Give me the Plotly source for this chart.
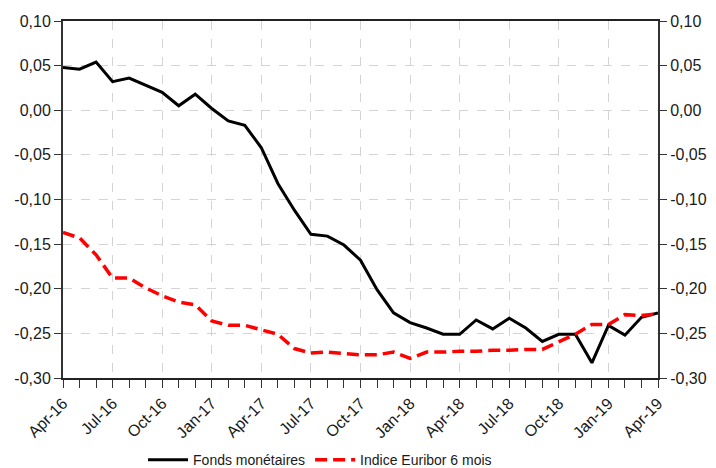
import plotly.graph_objects as go

months = ["Apr-16","May-16","Jun-16","Jul-16","Aug-16","Sep-16","Oct-16","Nov-16","Dec-16",
          "Jan-17","Feb-17","Mar-17","Apr-17","May-17","Jun-17","Jul-17","Aug-17","Sep-17",
          "Oct-17","Nov-17","Dec-17","Jan-18","Feb-18","Mar-18","Apr-18","May-18","Jun-18",
          "Jul-18","Aug-18","Sep-18","Oct-18","Nov-18","Dec-18","Jan-19","Feb-19","Mar-19","Apr-19"]

fonds = [0.048, 0.046, 0.054, 0.032, 0.036, 0.028, 0.020, 0.005, 0.018,
         0.002, -0.012, -0.017, -0.042, -0.082, -0.112, -0.139, -0.141, -0.151,
         -0.168, -0.201, -0.227, -0.238, -0.244, -0.251, -0.251, -0.235, -0.245,
         -0.233, -0.244, -0.259, -0.251, -0.251, -0.283, -0.241, -0.252, -0.232, -0.227]

euribor = [-0.137, -0.143, -0.162, -0.188, -0.188, -0.199, -0.208, -0.215, -0.218,
           -0.236, -0.241, -0.241, -0.246, -0.251, -0.267, -0.272, -0.271, -0.273,
           -0.274, -0.274, -0.271, -0.278, -0.271, -0.271, -0.270, -0.270, -0.269,
           -0.269, -0.268, -0.268, -0.259, -0.251, -0.240, -0.240, -0.229, -0.230, -0.228]

y_tickvals = [0.10, 0.05, 0.00, -0.05, -0.10, -0.15, -0.20, -0.25, -0.30]
y_ticktext = ["0,10", "0,05", "0,00", "-0,05", "-0,10", "-0,15", "-0,20", "-0,25", "-0,30"]

x_idx = list(range(len(months)))
x_tickvals = x_idx[::3]
x_ticktext = months[::3]

font_family = "Liberation Sans, Arial, sans-serif"
txt = "#1a1a1a"

fig = go.Figure()
fig.add_trace(go.Scatter(x=x_idx, y=fonds, mode="lines", name="Fonds monétaires",
                         line=dict(color="black", width=3)))
fig.add_trace(go.Scatter(x=x_idx, y=euribor, mode="lines", name="Indice Euribor 6 mois",
                         line=dict(color="#ff0000", width=3.5, dash="12px,6px")))
fig.add_trace(go.Scatter(x=x_idx, y=fonds, mode="none", yaxis="y2", showlegend=False,
                         hoverinfo="skip"))

grid = dict(showgrid=True, gridcolor="#d4d4d4", griddash="dash", gridwidth=1)

fig.update_layout(
    width=716, height=468,
    margin=dict(l=63, r=58, t=21, b=90, autoexpand=False),
    paper_bgcolor="white", plot_bgcolor="white",
    font=dict(family=font_family, size=16, color=txt),
    xaxis=dict(range=[0, len(months) - 1], tickmode="array", tickvals=x_tickvals,
               ticktext=x_ticktext, tickangle=-45, ticks="outside", ticklen=8,
               tickcolor="#333", showline=True, linecolor="#222", linewidth=1.5,
               mirror=True, zeroline=False, automargin=False,
               minor=dict(dtick=1, tick0=0, ticks="outside", ticklen=8, tickcolor="#333",
                          showgrid=False),
               tickfont=dict(size=16), **grid),
    yaxis=dict(range=[-0.30, 0.10], tickmode="array", tickvals=y_tickvals,
               ticktext=y_ticktext, ticks="outside", ticklen=7, tickcolor="#333",
               showline=True, linecolor="#333", linewidth=2, zeroline=False,
               automargin=False, tickfont=dict(size=16), **grid),
    yaxis2=dict(range=[-0.30, 0.10], overlaying="y", side="right", tickmode="array",
                tickvals=y_tickvals, ticktext=y_ticktext, ticks="outside", ticklen=7,
                tickcolor="#333", showline=True, linecolor="#333", linewidth=2,
                zeroline=False, showgrid=False, automargin=False, tickfont=dict(size=16)),
    legend=dict(orientation="h", x=0.432, xanchor="center", yref="container", y=0.017,
                yanchor="middle", font=dict(size=14), itemwidth=40,
                bgcolor="rgba(0,0,0,0)"),
    showlegend=True,
)

fig.write_html("out.html", config={"displayModeBar": False},
               post_script="document.body.style.margin='0';document.body.style.overflow='hidden';")
